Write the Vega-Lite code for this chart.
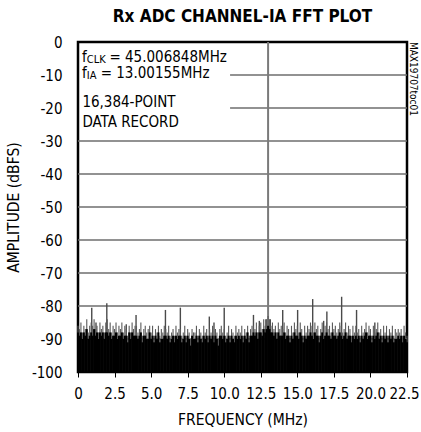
{
  "$schema": "https://vega.github.io/schema/vega-lite/v6.json",
  "autosize": {"type": "none"},
  "padding": {"left": 78, "top": 42, "right": 14, "bottom": 60},
  "width": 329,
  "height": 330,
  "background": "white",
  "title": {
    "text": "Rx ADC CHANNEL-IA FFT PLOT",
    "font": "DejaVu Sans Condensed, Liberation Sans Narrow, sans-serif",
    "fontSize": 17,
    "fontWeight": "bold",
    "color": "black",
    "anchor": "middle",
    "frame": "group",
    "offset": 9
  },
  "config": {
    "view": {"stroke": "black", "strokeWidth": 2.5},
    "axis": {
      "labelFont": "DejaVu Sans Condensed, Liberation Sans Narrow, sans-serif",
      "titleFont": "DejaVu Sans Condensed, Liberation Sans Narrow, sans-serif",
      "labelFontSize": 15,
      "titleFontSize": 15.5,
      "titleFontWeight": "normal",
      "labelColor": "black",
      "titleColor": "black",
      "grid": false,
      "domain": false
    }
  },
  "datasets": {
    "grid": [
      {"g": -10, "xs": 10.4}, {"g": -20, "xs": 10.4}, {"g": -30, "xs": 0},
      {"g": -40, "xs": 0}, {"g": -50, "xs": 0}, {"g": -60, "xs": 0},
      {"g": -70, "xs": 0}, {"g": -80, "xs": 0}, {"g": -90, "xs": 0}
    ],
    "spurs": [
      {"f": 0.94, "a": -80.5}, {"f": 1.97, "a": -79.2}, {"f": 3.97, "a": -82.7},
      {"f": 5.98, "a": -81.2}, {"f": 7.0, "a": -80.5}, {"f": 8.98, "a": -83.2},
      {"f": 10.0, "a": -80.5}, {"f": 12.0, "a": -82.7}, {"f": 14.0, "a": -81.2},
      {"f": 15.02, "a": -81.2}, {"f": 16.05, "a": -77.9}, {"f": 17.02, "a": -81.7},
      {"f": 18.03, "a": -77.2}, {"f": 19.05, "a": -81.2},
      {"f": 1.23, "a": -85}, {"f": 3.3, "a": -85.5}, {"f": 9.3, "a": -85},
      {"f": 12.4, "a": -84.5}, {"f": 12.85, "a": -84}, {"f": 13.15, "a": -84},
      {"f": 16.8, "a": -84.5}, {"f": 20.3, "a": -85}
    ],
    "carrier": [{"f": 13.0, "a": 0}],
    "noise": [
      {"f":0.0,"hi":-86,"lo":-88},{"f":0.1,"hi":-87,"lo":-89},{"f":0.2,"hi":-85,"lo":-88},{"f":0.3,"hi":-88,"lo":-90},{"f":0.4,"hi":-86,"lo":-88},{"f":0.5,"hi":-87,"lo":-89},{"f":0.6,"hi":-84,"lo":-87},{"f":0.7,"hi":-88,"lo":-90},{"f":0.8,"hi":-86,"lo":-89},{"f":0.9,"hi":-85,"lo":-88},
      {"f":1.0,"hi":-86,"lo":-89},{"f":1.1,"hi":-84,"lo":-87},{"f":1.2,"hi":-87,"lo":-89},{"f":1.3,"hi":-86,"lo":-88},{"f":1.4,"hi":-88,"lo":-90},{"f":1.5,"hi":-85,"lo":-88},{"f":1.6,"hi":-87,"lo":-89},{"f":1.7,"hi":-86,"lo":-88},{"f":1.8,"hi":-88,"lo":-90},{"f":1.9,"hi":-85,"lo":-88},
      {"f":2.0,"hi":-84,"lo":-88},{"f":2.1,"hi":-87,"lo":-89},{"f":2.2,"hi":-85,"lo":-88},{"f":2.3,"hi":-88,"lo":-90},{"f":2.4,"hi":-86,"lo":-89},{"f":2.5,"hi":-87,"lo":-89},{"f":2.6,"hi":-85,"lo":-88},{"f":2.7,"hi":-88,"lo":-90},{"f":2.8,"hi":-86,"lo":-89},{"f":2.9,"hi":-87,"lo":-89},
      {"f":3.0,"hi":-85,"lo":-88},{"f":3.1,"hi":-88,"lo":-90},{"f":3.2,"hi":-86,"lo":-89},{"f":3.3,"hi":-87,"lo":-89},{"f":3.4,"hi":-89,"lo":-91},{"f":3.5,"hi":-86,"lo":-88},{"f":3.6,"hi":-88,"lo":-90},{"f":3.7,"hi":-85,"lo":-88},{"f":3.8,"hi":-87,"lo":-89},{"f":3.9,"hi":-86,"lo":-89},
      {"f":4.0,"hi":-86,"lo":-89},{"f":4.1,"hi":-88,"lo":-90},{"f":4.2,"hi":-87,"lo":-89},{"f":4.3,"hi":-85,"lo":-88},{"f":4.4,"hi":-89,"lo":-91},{"f":4.5,"hi":-87,"lo":-89},{"f":4.6,"hi":-86,"lo":-89},{"f":4.7,"hi":-88,"lo":-90},{"f":4.8,"hi":-87,"lo":-90},{"f":4.9,"hi":-86,"lo":-88},
      {"f":5.0,"hi":-88,"lo":-90},{"f":5.1,"hi":-86,"lo":-89},{"f":5.2,"hi":-89,"lo":-91},{"f":5.3,"hi":-87,"lo":-89},{"f":5.4,"hi":-88,"lo":-90},{"f":5.5,"hi":-86,"lo":-88},{"f":5.6,"hi":-89,"lo":-91},{"f":5.7,"hi":-87,"lo":-90},{"f":5.8,"hi":-88,"lo":-90},{"f":5.9,"hi":-86,"lo":-89},
      {"f":6.0,"hi":-87,"lo":-89},{"f":6.1,"hi":-88,"lo":-90},{"f":6.2,"hi":-86,"lo":-89},{"f":6.3,"hi":-89,"lo":-91},{"f":6.4,"hi":-88,"lo":-90},{"f":6.5,"hi":-87,"lo":-89},{"f":6.6,"hi":-89,"lo":-91},{"f":6.7,"hi":-86,"lo":-89},{"f":6.8,"hi":-88,"lo":-90},{"f":6.9,"hi":-87,"lo":-89},
      {"f":7.0,"hi":-87,"lo":-89},{"f":7.1,"hi":-89,"lo":-91},{"f":7.2,"hi":-88,"lo":-90},{"f":7.3,"hi":-86,"lo":-89},{"f":7.4,"hi":-89,"lo":-91},{"f":7.5,"hi":-87,"lo":-89},{"f":7.6,"hi":-88,"lo":-90},{"f":7.7,"hi":-90,"lo":-92},{"f":7.8,"hi":-87,"lo":-89},{"f":7.9,"hi":-88,"lo":-90},
      {"f":8.0,"hi":-88,"lo":-90},{"f":8.1,"hi":-86,"lo":-89},{"f":8.2,"hi":-89,"lo":-91},{"f":8.3,"hi":-87,"lo":-89},{"f":8.4,"hi":-88,"lo":-90},{"f":8.5,"hi":-89,"lo":-91},{"f":8.6,"hi":-86,"lo":-89},{"f":8.7,"hi":-88,"lo":-90},{"f":8.8,"hi":-87,"lo":-89},{"f":8.9,"hi":-89,"lo":-91},
      {"f":9.0,"hi":-87,"lo":-89},{"f":9.1,"hi":-88,"lo":-90},{"f":9.2,"hi":-86,"lo":-89},{"f":9.3,"hi":-89,"lo":-91},{"f":9.4,"hi":-87,"lo":-89},{"f":9.5,"hi":-88,"lo":-90},{"f":9.6,"hi":-90,"lo":-92},{"f":9.7,"hi":-87,"lo":-89},{"f":9.8,"hi":-86,"lo":-89},{"f":9.9,"hi":-88,"lo":-90},
      {"f":10.0,"hi":-87,"lo":-89},{"f":10.1,"hi":-89,"lo":-91},{"f":10.2,"hi":-88,"lo":-90},{"f":10.3,"hi":-86,"lo":-89},{"f":10.4,"hi":-89,"lo":-91},{"f":10.5,"hi":-87,"lo":-89},{"f":10.6,"hi":-88,"lo":-90},{"f":10.7,"hi":-89,"lo":-91},{"f":10.8,"hi":-86,"lo":-89},{"f":10.9,"hi":-88,"lo":-90},
      {"f":11.0,"hi":-87,"lo":-89},{"f":11.1,"hi":-88,"lo":-90},{"f":11.2,"hi":-86,"lo":-89},{"f":11.3,"hi":-89,"lo":-91},{"f":11.4,"hi":-87,"lo":-89},{"f":11.5,"hi":-88,"lo":-90},{"f":11.6,"hi":-86,"lo":-88},{"f":11.7,"hi":-89,"lo":-91},{"f":11.8,"hi":-87,"lo":-89},{"f":11.9,"hi":-86,"lo":-89},
      {"f":12.0,"hi":-86,"lo":-88},{"f":12.1,"hi":-87,"lo":-89},{"f":12.2,"hi":-85,"lo":-88},{"f":12.3,"hi":-88,"lo":-90},{"f":12.4,"hi":-86,"lo":-88},{"f":12.5,"hi":-85,"lo":-88},{"f":12.6,"hi":-87,"lo":-89},{"f":12.7,"hi":-84,"lo":-87},{"f":12.8,"hi":-86,"lo":-88},{"f":12.9,"hi":-84,"lo":-87},
      {"f":13.0,"hi":-83,"lo":-86},{"f":13.1,"hi":-84,"lo":-87},{"f":13.2,"hi":-86,"lo":-88},{"f":13.3,"hi":-85,"lo":-88},{"f":13.4,"hi":-87,"lo":-89},{"f":13.5,"hi":-86,"lo":-88},{"f":13.6,"hi":-88,"lo":-90},{"f":13.7,"hi":-85,"lo":-88},{"f":13.8,"hi":-87,"lo":-89},{"f":13.9,"hi":-86,"lo":-89},
      {"f":14.0,"hi":-87,"lo":-89},{"f":14.1,"hi":-85,"lo":-88},{"f":14.2,"hi":-88,"lo":-90},{"f":14.3,"hi":-86,"lo":-89},{"f":14.4,"hi":-87,"lo":-89},{"f":14.5,"hi":-89,"lo":-91},{"f":14.6,"hi":-86,"lo":-89},{"f":14.7,"hi":-88,"lo":-90},{"f":14.8,"hi":-85,"lo":-88},{"f":14.9,"hi":-87,"lo":-89},
      {"f":15.0,"hi":-86,"lo":-89},{"f":15.1,"hi":-88,"lo":-90},{"f":15.2,"hi":-85,"lo":-88},{"f":15.3,"hi":-87,"lo":-89},{"f":15.4,"hi":-89,"lo":-91},{"f":15.5,"hi":-86,"lo":-89},{"f":15.6,"hi":-88,"lo":-90},{"f":15.7,"hi":-86,"lo":-89},{"f":15.8,"hi":-87,"lo":-89},{"f":15.9,"hi":-85,"lo":-88},
      {"f":16.0,"hi":-86,"lo":-89},{"f":16.1,"hi":-88,"lo":-90},{"f":16.2,"hi":-85,"lo":-88},{"f":16.3,"hi":-87,"lo":-89},{"f":16.4,"hi":-86,"lo":-89},{"f":16.5,"hi":-89,"lo":-91},{"f":16.6,"hi":-87,"lo":-89},{"f":16.7,"hi":-85,"lo":-88},{"f":16.8,"hi":-88,"lo":-90},{"f":16.9,"hi":-86,"lo":-89},
      {"f":17.0,"hi":-85,"lo":-88},{"f":17.1,"hi":-87,"lo":-89},{"f":17.2,"hi":-86,"lo":-89},{"f":17.3,"hi":-88,"lo":-90},{"f":17.4,"hi":-85,"lo":-88},{"f":17.5,"hi":-87,"lo":-89},{"f":17.6,"hi":-86,"lo":-89},{"f":17.7,"hi":-88,"lo":-90},{"f":17.8,"hi":-87,"lo":-89},{"f":17.9,"hi":-85,"lo":-88},
      {"f":18.0,"hi":-86,"lo":-89},{"f":18.1,"hi":-88,"lo":-90},{"f":18.2,"hi":-87,"lo":-89},{"f":18.3,"hi":-85,"lo":-88},{"f":18.4,"hi":-88,"lo":-90},{"f":18.5,"hi":-86,"lo":-89},{"f":18.6,"hi":-87,"lo":-89},{"f":18.7,"hi":-89,"lo":-91},{"f":18.8,"hi":-86,"lo":-89},{"f":18.9,"hi":-88,"lo":-90},
      {"f":19.0,"hi":-86,"lo":-89},{"f":19.1,"hi":-88,"lo":-90},{"f":19.2,"hi":-87,"lo":-89},{"f":19.3,"hi":-89,"lo":-91},{"f":19.4,"hi":-86,"lo":-89},{"f":19.5,"hi":-88,"lo":-90},{"f":19.6,"hi":-87,"lo":-89},{"f":19.7,"hi":-85,"lo":-88},{"f":19.8,"hi":-88,"lo":-90},{"f":19.9,"hi":-86,"lo":-89},
      {"f":20.0,"hi":-87,"lo":-89},{"f":20.1,"hi":-89,"lo":-91},{"f":20.2,"hi":-86,"lo":-89},{"f":20.3,"hi":-88,"lo":-90},{"f":20.4,"hi":-87,"lo":-89},{"f":20.5,"hi":-85,"lo":-88},{"f":20.6,"hi":-88,"lo":-90},{"f":20.7,"hi":-87,"lo":-89},{"f":20.8,"hi":-89,"lo":-91},{"f":20.9,"hi":-86,"lo":-89},
      {"f":21.0,"hi":-88,"lo":-90},{"f":21.1,"hi":-86,"lo":-89},{"f":21.2,"hi":-89,"lo":-91},{"f":21.3,"hi":-87,"lo":-89},{"f":21.4,"hi":-88,"lo":-90},{"f":21.5,"hi":-86,"lo":-89},{"f":21.6,"hi":-89,"lo":-91},{"f":21.7,"hi":-87,"lo":-90},{"f":21.8,"hi":-88,"lo":-90},{"f":21.9,"hi":-87,"lo":-89},
      {"f":22.0,"hi":-88,"lo":-90},{"f":22.1,"hi":-87,"lo":-89},{"f":22.2,"hi":-89,"lo":-91},{"f":22.3,"hi":-86,"lo":-89},{"f":22.4,"hi":-88,"lo":-90},{"f":22.5,"hi":-89,"lo":-91}
    ],
    "notes": [
      {"t": "f", "x": 0.28, "y": -4.4, "r": "main"},
      {"t": "CLK", "x": 0.6, "y": -5.4, "r": "sub"},
      {"t": "= 45.006848MHz", "x": 2.15, "y": -4.4, "r": "main"},
      {"t": "f", "x": 0.28, "y": -9.3, "r": "main"},
      {"t": "IA", "x": 0.6, "y": -10.4, "r": "sub"},
      {"t": "= 13.00155MHz", "x": 1.55, "y": -9.3, "r": "main"},
      {"t": "16,384-POINT", "x": 0.3, "y": -18.1, "r": "main"},
      {"t": "DATA RECORD", "x": 0.3, "y": -24.1, "r": "main"}
    ],
    "tag": [{"t": "MAX19707toc01", "x": 22.92, "y": -11.2}]
  },
  "layer": [
    {
      "data": {"name": "grid"},
      "mark": {"type": "rule", "color": "#6e6e6e", "strokeWidth": 1.3},
      "encoding": {
        "x": {"field": "xs", "type": "quantitative", "scale": {"domain": [0, 22.5], "nice": false, "zero": false},
          "title": "FREQUENCY (MHz)",
          "axis": {"values": [0, 2.5, 5, 7.5, 10, 12.5, 15, 17.5, 20, 22.5], "labelExpr": "datum.value == 0 ? '0' : format(datum.value, '.1f')", "labelOffset": {"condition": {"test": "datum.value == 22.5", "value": -3}, "value": 0}, "ticks": true, "tickSize": 5, "tickColor": "black", "tickWidth": 1, "labelPadding": 9, "titlePadding": 11, "labelFlush": false, "labelOverlap": false}},
        "x2": {"datum": 22.5},
        "y": {"field": "g", "type": "quantitative", "scale": {"domain": [-100, 0], "nice": false, "zero": false},
          "title": "AMPLITUDE (dBFS)",
          "axis": {"values": [-100, -90, -80, -70, -60, -50, -40, -30, -20, -10, 0], "labelExpr": "'' + datum.value", "ticks": false, "labelPadding": 16, "labelOverlap": false, "titleX": -57, "titleY": 165, "titleAngle": -90, "titleAlign": "center", "titleBaseline": "bottom"}}
      }
    },
    {
      "data": {"name": "carrier"},
      "mark": {"type": "rule", "color": "#7a7a7a", "strokeWidth": 2},
      "encoding": {
        "x": {"field": "f", "type": "quantitative", "title": "FREQUENCY (MHz)",
          "axis": {"values": [0, 2.5, 5, 7.5, 10, 12.5, 15, 17.5, 20, 22.5], "labelExpr": "datum.value == 0 ? '0' : format(datum.value, '.1f')", "labelOffset": {"condition": {"test": "datum.value == 22.5", "value": -3}, "value": 0}, "ticks": true, "tickSize": 5, "tickColor": "black", "tickWidth": 1, "labelPadding": 9, "titlePadding": 11, "labelFlush": false, "labelOverlap": false}},
        "y": {"field": "a", "type": "quantitative", "title": "AMPLITUDE (dBFS)",
          "axis": {"values": [-100, -90, -80, -70, -60, -50, -40, -30, -20, -10, 0], "labelExpr": "'' + datum.value", "ticks": false, "labelPadding": 16, "labelOverlap": false, "titleX": -57, "titleY": 165, "titleAngle": -90, "titleAlign": "center", "titleBaseline": "bottom"}},
        "y2": {"datum": -100}
      }
    },
    {
      "data": {"name": "spurs"},
      "mark": {"type": "rule", "color": "#4a4a4a", "strokeWidth": 1.4},
      "encoding": {
        "x": {"field": "f", "type": "quantitative", "title": "FREQUENCY (MHz)",
          "axis": {"values": [0, 2.5, 5, 7.5, 10, 12.5, 15, 17.5, 20, 22.5], "labelExpr": "datum.value == 0 ? '0' : format(datum.value, '.1f')", "labelOffset": {"condition": {"test": "datum.value == 22.5", "value": -3}, "value": 0}, "ticks": true, "tickSize": 5, "tickColor": "black", "tickWidth": 1, "labelPadding": 9, "titlePadding": 11, "labelFlush": false, "labelOverlap": false}},
        "y": {"field": "a", "type": "quantitative", "title": "AMPLITUDE (dBFS)",
          "axis": {"values": [-100, -90, -80, -70, -60, -50, -40, -30, -20, -10, 0], "labelExpr": "'' + datum.value", "ticks": false, "labelPadding": 16, "labelOverlap": false, "titleX": -57, "titleY": 165, "titleAngle": -90, "titleAlign": "center", "titleBaseline": "bottom"}},
        "y2": {"datum": -100}
      }
    },
    {
      "data": {"name": "noise"},
      "mark": {"type": "rule", "color": "#5a5a5a", "strokeWidth": 1.1},
      "encoding": {
        "x": {"field": "f", "type": "quantitative", "title": "FREQUENCY (MHz)",
          "axis": {"values": [0, 2.5, 5, 7.5, 10, 12.5, 15, 17.5, 20, 22.5], "labelExpr": "datum.value == 0 ? '0' : format(datum.value, '.1f')", "labelOffset": {"condition": {"test": "datum.value == 22.5", "value": -3}, "value": 0}, "ticks": true, "tickSize": 5, "tickColor": "black", "tickWidth": 1, "labelPadding": 9, "titlePadding": 11, "labelFlush": false, "labelOverlap": false}},
        "y": {"field": "hi", "type": "quantitative", "title": "AMPLITUDE (dBFS)",
          "axis": {"values": [-100, -90, -80, -70, -60, -50, -40, -30, -20, -10, 0], "labelExpr": "'' + datum.value", "ticks": false, "labelPadding": 16, "labelOverlap": false, "titleX": -57, "titleY": 165, "titleAngle": -90, "titleAlign": "center", "titleBaseline": "bottom"}},
        "y2": {"datum": -100}
      }
    },
    {
      "data": {"name": "noise"},
      "mark": {"type": "rule", "color": "black", "strokeWidth": 2},
      "encoding": {
        "x": {"field": "f", "type": "quantitative", "title": "FREQUENCY (MHz)",
          "axis": {"values": [0, 2.5, 5, 7.5, 10, 12.5, 15, 17.5, 20, 22.5], "labelExpr": "datum.value == 0 ? '0' : format(datum.value, '.1f')", "labelOffset": {"condition": {"test": "datum.value == 22.5", "value": -3}, "value": 0}, "ticks": true, "tickSize": 5, "tickColor": "black", "tickWidth": 1, "labelPadding": 9, "titlePadding": 11, "labelFlush": false, "labelOverlap": false}},
        "y": {"field": "lo", "type": "quantitative", "title": "AMPLITUDE (dBFS)",
          "axis": {"values": [-100, -90, -80, -70, -60, -50, -40, -30, -20, -10, 0], "labelExpr": "'' + datum.value", "ticks": false, "labelPadding": 16, "labelOverlap": false, "titleX": -57, "titleY": 165, "titleAngle": -90, "titleAlign": "center", "titleBaseline": "bottom"}},
        "y2": {"datum": -100}
      }
    },
    {
      "data": {"name": "notes"},
      "transform": [{"filter": "datum.r == 'main'"}],
      "mark": {"type": "text", "align": "left", "baseline": "middle", "fontSize": 15, "color": "black",
        "font": "DejaVu Sans Condensed, Liberation Sans Narrow, sans-serif"},
      "encoding": {
        "x": {"field": "x", "type": "quantitative", "title": "FREQUENCY (MHz)",
          "axis": {"values": [0, 2.5, 5, 7.5, 10, 12.5, 15, 17.5, 20, 22.5], "labelExpr": "datum.value == 0 ? '0' : format(datum.value, '.1f')", "labelOffset": {"condition": {"test": "datum.value == 22.5", "value": -3}, "value": 0}, "ticks": true, "tickSize": 5, "tickColor": "black", "tickWidth": 1, "labelPadding": 9, "titlePadding": 11, "labelFlush": false, "labelOverlap": false}},
        "y": {"field": "y", "type": "quantitative", "title": "AMPLITUDE (dBFS)",
          "axis": {"values": [-100, -90, -80, -70, -60, -50, -40, -30, -20, -10, 0], "labelExpr": "'' + datum.value", "ticks": false, "labelPadding": 16, "labelOverlap": false, "titleX": -57, "titleY": 165, "titleAngle": -90, "titleAlign": "center", "titleBaseline": "bottom"}},
        "text": {"field": "t"}
      }
    },
    {
      "data": {"name": "notes"},
      "transform": [{"filter": "datum.r == 'sub'"}],
      "mark": {"type": "text", "align": "left", "baseline": "middle", "fontSize": 11, "color": "black",
        "font": "DejaVu Sans Condensed, Liberation Sans Narrow, sans-serif"},
      "encoding": {
        "x": {"field": "x", "type": "quantitative", "title": "FREQUENCY (MHz)",
          "axis": {"values": [0, 2.5, 5, 7.5, 10, 12.5, 15, 17.5, 20, 22.5], "labelExpr": "datum.value == 0 ? '0' : format(datum.value, '.1f')", "labelOffset": {"condition": {"test": "datum.value == 22.5", "value": -3}, "value": 0}, "ticks": true, "tickSize": 5, "tickColor": "black", "tickWidth": 1, "labelPadding": 9, "titlePadding": 11, "labelFlush": false, "labelOverlap": false}},
        "y": {"field": "y", "type": "quantitative", "title": "AMPLITUDE (dBFS)",
          "axis": {"values": [-100, -90, -80, -70, -60, -50, -40, -30, -20, -10, 0], "labelExpr": "'' + datum.value", "ticks": false, "labelPadding": 16, "labelOverlap": false, "titleX": -57, "titleY": 165, "titleAngle": -90, "titleAlign": "center", "titleBaseline": "bottom"}},
        "text": {"field": "t"}
      }
    },
    {
      "data": {"name": "tag"},
      "mark": {"type": "text", "align": "center", "baseline": "middle", "angle": 90, "fontSize": 10, "color": "black",
        "font": "DejaVu Sans Condensed, Liberation Sans Narrow, sans-serif"},
      "encoding": {
        "x": {"field": "x", "type": "quantitative", "title": "FREQUENCY (MHz)",
          "axis": {"values": [0, 2.5, 5, 7.5, 10, 12.5, 15, 17.5, 20, 22.5], "labelExpr": "datum.value == 0 ? '0' : format(datum.value, '.1f')", "labelOffset": {"condition": {"test": "datum.value == 22.5", "value": -3}, "value": 0}, "ticks": true, "tickSize": 5, "tickColor": "black", "tickWidth": 1, "labelPadding": 9, "titlePadding": 11, "labelFlush": false, "labelOverlap": false}},
        "y": {"field": "y", "type": "quantitative", "title": "AMPLITUDE (dBFS)",
          "axis": {"values": [-100, -90, -80, -70, -60, -50, -40, -30, -20, -10, 0], "labelExpr": "'' + datum.value", "ticks": false, "labelPadding": 16, "labelOverlap": false, "titleX": -57, "titleY": 165, "titleAngle": -90, "titleAlign": "center", "titleBaseline": "bottom"}},
        "text": {"field": "t"}
      }
    }
  ]
}
